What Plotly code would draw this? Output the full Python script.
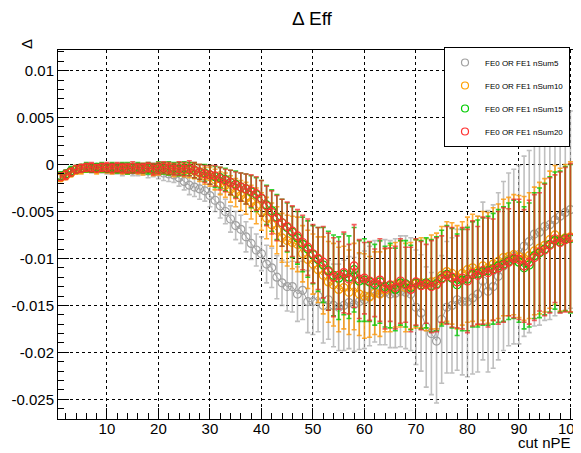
import plotly.graph_objects as go

cut_npe = list(range(1, 101))

eff_nsum5 = [
    -0.0013, -0.0011, -0.0008, -0.0006, -0.0005, -0.0004, -0.0004, -0.0005, -0.0004, -0.0005,
    -0.0005, -0.0005, -0.0006, -0.0005, -0.0006, -0.0006, -0.0005, -0.0007, -0.0006, -0.0008,
    -0.0009, -0.0010, -0.0011, -0.0014, -0.0018, -0.0022, -0.0024, -0.0026, -0.0028, -0.0033,
    -0.0038, -0.0044, -0.0050, -0.0058, -0.0065, -0.0069, -0.0077, -0.0084, -0.0091, -0.0095,
    -0.0106, -0.0110, -0.0120, -0.0126, -0.0130, -0.0130, -0.0138, -0.0134, -0.0146, -0.0146,
    -0.0140, -0.0150, -0.0144, -0.0150, -0.0152, -0.0150, -0.0147, -0.0149, -0.0146, -0.0144,
    -0.0140, -0.0135, -0.0137, -0.0136, -0.0138, -0.0137, -0.0135, -0.0136, -0.0138, -0.0152,
    -0.0158, -0.0173, -0.0180, -0.0188, -0.0165, -0.0152, -0.0150, -0.0144, -0.0146, -0.0146,
    -0.0142, -0.0138, -0.0124, -0.0135, -0.0130, -0.0119, -0.0108, -0.0101, -0.0098, -0.0096,
    -0.0087, -0.0082, -0.0074, -0.0072, -0.0066, -0.0064, -0.0059, -0.0055, -0.0051, -0.0048,
]
err_nsum5 = [
    0.0004, 0.0004, 0.0004, 0.0004, 0.0004, 0.0004, 0.0005, 0.0004, 0.0005, 0.0005,
    0.0005, 0.0005, 0.0006, 0.0005, 0.0006, 0.0006, 0.0006, 0.0007, 0.0007, 0.0007,
    0.0008, 0.0008, 0.0008, 0.0009, 0.0009, 0.0010, 0.0010, 0.0011, 0.0011, 0.0012,
    0.0012, 0.0013, 0.0013, 0.0014, 0.0015, 0.0015, 0.0016, 0.0017, 0.0017, 0.0018,
    0.0020, 0.0021, 0.0023, 0.0024, 0.0026, 0.0027, 0.0029, 0.0031, 0.0033, 0.0035,
    0.0038, 0.0040, 0.0042, 0.0044, 0.0046, 0.0048, 0.0049, 0.0050, 0.0051, 0.0052,
    0.0053, 0.0054, 0.0055, 0.0056, 0.0057, 0.0058, 0.0059, 0.0060, 0.0060, 0.0061,
    0.0062, 0.0064, 0.0065, 0.0066, 0.0068, 0.0070, 0.0072, 0.0075, 0.0078, 0.0080,
    0.0081, 0.0083, 0.0084, 0.0086, 0.0087, 0.0089, 0.0090, 0.0092, 0.0093, 0.0095,
    0.0096, 0.0097, 0.0098, 0.0099, 0.0100, 0.0101, 0.0102, 0.0103, 0.0104, 0.0105,
]

eff_nsum10 = [
    -0.0014, -0.0012, -0.0009, -0.0006, -0.0005, -0.0004, -0.0004, -0.0005, -0.0004, -0.0004,
    -0.0005, -0.0004, -0.0005, -0.0005, -0.0004, -0.0005, -0.0005, -0.0004, -0.0006, -0.0005,
    -0.0004, -0.0005, -0.0006, -0.0005, -0.0006, -0.0006, -0.0007, -0.0009, -0.0012, -0.0013,
    -0.0016, -0.0020, -0.0022, -0.0026, -0.0030, -0.0033, -0.0036, -0.0040, -0.0044, -0.0050,
    -0.0057, -0.0064, -0.0070, -0.0078, -0.0081, -0.0083, -0.0085, -0.0095, -0.0101, -0.0106,
    -0.0112, -0.0118, -0.0125, -0.0128, -0.0133, -0.0131, -0.0136, -0.0130, -0.0138, -0.0140,
    -0.0141, -0.0137, -0.0138, -0.0134, -0.0132, -0.0128, -0.0127, -0.0131, -0.0129, -0.0127,
    -0.0126, -0.0128, -0.0125, -0.0124, -0.0118, -0.0114, -0.0116, -0.0120, -0.0116, -0.0112,
    -0.0110, -0.0113, -0.0108, -0.0110, -0.0106, -0.0103, -0.0099, -0.0098, -0.0096, -0.0098,
    -0.0100, -0.0097, -0.0092, -0.0089, -0.0086, -0.0080, -0.0075, -0.0080, -0.0078, -0.0077,
]
err_nsum10 = [
    0.0004, 0.0004, 0.0004, 0.0004, 0.0005, 0.0004, 0.0004, 0.0005, 0.0004, 0.0005,
    0.0005, 0.0005, 0.0005, 0.0005, 0.0005, 0.0005, 0.0006, 0.0005, 0.0006, 0.0006,
    0.0006, 0.0006, 0.0007, 0.0007, 0.0007, 0.0008, 0.0008, 0.0009, 0.0009, 0.0010,
    0.0011, 0.0012, 0.0013, 0.0014, 0.0015, 0.0016, 0.0017, 0.0018, 0.0019, 0.0020,
    0.0022, 0.0023, 0.0025, 0.0026, 0.0027, 0.0028, 0.0029, 0.0030, 0.0031, 0.0032,
    0.0035, 0.0041, 0.0043, 0.0044, 0.0045, 0.0044, 0.0045, 0.0046, 0.0044, 0.0045,
    0.0043, 0.0044, 0.0045, 0.0044, 0.0046, 0.0045, 0.0046, 0.0047, 0.0046, 0.0047,
    0.0048, 0.0049, 0.0050, 0.0051, 0.0052, 0.0053, 0.0054, 0.0055, 0.0055, 0.0056,
    0.0057, 0.0058, 0.0058, 0.0059, 0.0060, 0.0061, 0.0062, 0.0063, 0.0064, 0.0065,
    0.0066, 0.0067, 0.0068, 0.0070, 0.0071, 0.0073, 0.0074, 0.0076, 0.0078, 0.0080,
]

eff_nsum15 = [
    -0.0012, -0.0010, -0.0007, -0.0005, -0.0004, -0.0003, -0.0004, -0.0003, -0.0003, -0.0004,
    -0.0003, -0.0004, -0.0003, -0.0004, -0.0004, -0.0003, -0.0004, -0.0004, -0.0004, -0.0003,
    -0.0004, -0.0004, -0.0004, -0.0005, -0.0004, -0.0005, -0.0006, -0.0008, -0.0009, -0.0011,
    -0.0013, -0.0014, -0.0016, -0.0019, -0.0021, -0.0024, -0.0026, -0.0029, -0.0032, -0.0036,
    -0.0043, -0.0049, -0.0056, -0.0062, -0.0067, -0.0072, -0.0078, -0.0085, -0.0090, -0.0096,
    -0.0101, -0.0107, -0.0113, -0.0118, -0.0121, -0.0117, -0.0120, -0.0112, -0.0124, -0.0123,
    -0.0125, -0.0128, -0.0125, -0.0130, -0.0129, -0.0133, -0.0126, -0.0127, -0.0131, -0.0126,
    -0.0128, -0.0126, -0.0129, -0.0127, -0.0121, -0.0117, -0.0121, -0.0128, -0.0123, -0.0122,
    -0.0117, -0.0116, -0.0114, -0.0113, -0.0111, -0.0108, -0.0106, -0.0103, -0.0101, -0.0104,
    -0.0110, -0.0107, -0.0097, -0.0094, -0.0090, -0.0085, -0.0081, -0.0082, -0.0079, -0.0079,
]
err_nsum15 = [
    0.0004, 0.0004, 0.0005, 0.0004, 0.0004, 0.0005, 0.0004, 0.0004, 0.0005, 0.0004,
    0.0005, 0.0005, 0.0005, 0.0006, 0.0005, 0.0005, 0.0005, 0.0006, 0.0005, 0.0006,
    0.0006, 0.0007, 0.0006, 0.0007, 0.0007, 0.0007, 0.0008, 0.0008, 0.0009, 0.0010,
    0.0011, 0.0011, 0.0012, 0.0013, 0.0014, 0.0015, 0.0016, 0.0017, 0.0018, 0.0019,
    0.0021, 0.0022, 0.0024, 0.0025, 0.0026, 0.0027, 0.0028, 0.0029, 0.0030, 0.0031,
    0.0034, 0.0040, 0.0042, 0.0043, 0.0044, 0.0043, 0.0044, 0.0045, 0.0043, 0.0044,
    0.0042, 0.0043, 0.0044, 0.0043, 0.0045, 0.0044, 0.0045, 0.0046, 0.0045, 0.0046,
    0.0047, 0.0048, 0.0049, 0.0050, 0.0051, 0.0052, 0.0053, 0.0054, 0.0054, 0.0055,
    0.0056, 0.0057, 0.0057, 0.0058, 0.0059, 0.0060, 0.0061, 0.0062, 0.0063, 0.0064,
    0.0065, 0.0066, 0.0067, 0.0069, 0.0070, 0.0072, 0.0073, 0.0075, 0.0077, 0.0079,
]

eff_nsum20 = [
    -0.0013, -0.0011, -0.0008, -0.0005, -0.0004, -0.0003, -0.0003, -0.0004, -0.0003, -0.0003,
    -0.0004, -0.0003, -0.0004, -0.0004, -0.0003, -0.0004, -0.0004, -0.0003, -0.0005, -0.0004,
    -0.0003, -0.0004, -0.0005, -0.0004, -0.0005, -0.0004, -0.0006, -0.0008, -0.0010, -0.0011,
    -0.0012, -0.0015, -0.0017, -0.0019, -0.0022, -0.0024, -0.0026, -0.0028, -0.0031, -0.0036,
    -0.0044, -0.0051, -0.0057, -0.0062, -0.0066, -0.0071, -0.0076, -0.0083, -0.0088, -0.0095,
    -0.0100, -0.0104, -0.0114, -0.0120, -0.0118, -0.0115, -0.0122, -0.0108, -0.0122, -0.0121,
    -0.0124, -0.0126, -0.0123, -0.0132, -0.0128, -0.0131, -0.0124, -0.0128, -0.0133, -0.0125,
    -0.0129, -0.0127, -0.0130, -0.0128, -0.0122, -0.0118, -0.0120, -0.0125, -0.0121, -0.0124,
    -0.0116, -0.0118, -0.0113, -0.0115, -0.0112, -0.0110, -0.0107, -0.0104, -0.0100, -0.0101,
    -0.0108, -0.0104, -0.0099, -0.0093, -0.0091, -0.0086, -0.0079, -0.0083, -0.0080, -0.0078,
]
err_nsum20 = [
    0.0004, 0.0005, 0.0004, 0.0004, 0.0004, 0.0004, 0.0005, 0.0004, 0.0004, 0.0005,
    0.0005, 0.0005, 0.0005, 0.0005, 0.0006, 0.0005, 0.0005, 0.0005, 0.0006, 0.0006,
    0.0006, 0.0006, 0.0006, 0.0007, 0.0007, 0.0008, 0.0008, 0.0008, 0.0009, 0.0010,
    0.0011, 0.0012, 0.0012, 0.0013, 0.0014, 0.0015, 0.0016, 0.0017, 0.0018, 0.0019,
    0.0021, 0.0023, 0.0024, 0.0025, 0.0026, 0.0027, 0.0028, 0.0029, 0.0030, 0.0031,
    0.0033, 0.0038, 0.0041, 0.0042, 0.0036, 0.0043, 0.0037, 0.0044, 0.0042, 0.0038,
    0.0042, 0.0036, 0.0044, 0.0043, 0.0039, 0.0044, 0.0045, 0.0040, 0.0045, 0.0046,
    0.0047, 0.0042, 0.0049, 0.0050, 0.0046, 0.0052, 0.0053, 0.0049, 0.0054, 0.0055,
    0.0056, 0.0052, 0.0057, 0.0058, 0.0054, 0.0060, 0.0061, 0.0057, 0.0063, 0.0064,
    0.0060, 0.0066, 0.0067, 0.0063, 0.0070, 0.0072, 0.0068, 0.0075, 0.0077, 0.0079,
]

series_names = ["FE0 OR FE1 nSum5", "FE0 OR FE1 nSum10", "FE0 OR FE1 nSum15", "FE0 OR FE1 nSum20"]
series_values = [eff_nsum5, eff_nsum10, eff_nsum15, eff_nsum20]
series_errors = [err_nsum5, err_nsum10, err_nsum15, err_nsum20]
marker_colors = ["#a0a0a0", "#ffa000", "#00cc00", "#ff3030"]
err_colors = ["rgba(170,170,170,0.75)", "rgba(255,150,0,0.8)", "rgba(0,200,0,0.8)", "rgba(240,40,40,0.75)"]

y_tick_vals = [0.01, 0.005, 0, -0.005, -0.01, -0.015, -0.02, -0.025]
y_tick_text = ["0.01", "0.005", "0", "-0.005", "-0.01", "-0.015", "-0.02", "-0.025"]
x_tick_vals = [10, 20, 30, 40, 50, 60, 70, 80, 90, 100]

FONT = "Liberation Sans, Arial, Helvetica, sans-serif"

# the page body adds an 8px offset, so the figure is drawn 8px smaller
W, H = 573, 445
OFF = 8
L, T, R, B = 58 - OFF, 50 - OFF, 8, 34
PW, PH = W - L - R, H - T - B

fig = go.Figure()

for name, vals, errs, mc, ec in zip(series_names, series_values, series_errors, marker_colors, err_colors):
    fig.add_trace(go.Scatter(
        x=cut_npe, y=vals, mode="lines+markers", showlegend=False,
        line=dict(color=mc, width=1),
        marker=dict(symbol="circle-open", size=8, color=mc, line=dict(width=1.2, color=mc)),
        error_y=dict(type="data", array=errs, visible=True, color=ec, thickness=1.6, width=2.5),
    ))

for i, (name, mc) in enumerate(zip(series_names, marker_colors)):
    fig.add_trace(go.Scatter(
        x=[None], y=[None], mode="markers", name=name, legendgroup=f"g{i}",
        marker=dict(symbol="circle-open", size=7, color=mc, line=dict(width=1.2, color=mc)),
    ))

axis_common = dict(
    showline=True, linecolor="black", linewidth=1, mirror=True,
    ticks="inside", tickcolor="black", tickwidth=1, ticklen=11,
    showgrid=True, gridcolor="black", gridwidth=1, griddash="dot",
    zeroline=False, automargin=False,
    tickfont=dict(family=FONT, size=15, color="black"),
)

fig.update_xaxes(
    range=[0.5, 100.5], tickmode="array", tickvals=x_tick_vals,
    ticklabeloverflow="allow", ticklabelstandoff=-4,
    minor=dict(tickmode="linear", tick0=0, dtick=2, ticks="inside", ticklen=6,
               tickcolor="black", showgrid=False),
    **axis_common,
)
fig.update_yaxes(
    range=[-0.0271, 0.0122], tickmode="array", tickvals=y_tick_vals, ticktext=y_tick_text,
    minor=dict(tickmode="linear", tick0=0, dtick=0.001, ticks="inside", ticklen=6,
               tickcolor="black", showgrid=False),
    **axis_common,
)

fig.update_layout(
    width=W, height=H,
    margin=dict(l=L, r=R, t=T, b=B, autoexpand=False),
    paper_bgcolor="white", plot_bgcolor="white",
    font=dict(family=FONT, color="black"),
    title=dict(text="Δ Eff", x=(312 - OFF) / W, xanchor="center", y=1 - (18 - OFF) / H, yanchor="middle",
               font=dict(family=FONT, size=19, color="black")),
    legend=dict(
        x=(444 - 58) / PW, y=(419 - 47) / PH, xanchor="left", yanchor="top",
        bgcolor="white", bordercolor="black", borderwidth=1,
        font=dict(family=FONT, size=8, color="black"),
        tracegroupgap=4, itemwidth=30,
    ),
    annotations=[
        dict(text="cut nPE", xref="paper", yref="paper", x=1, y=0, xanchor="right", yanchor="top",
             yshift=-13, showarrow=False, font=dict(family=FONT, size=15, color="black")),
        dict(text="Δ", xref="paper", yref="paper", x=(27 - 58) / PW, y=(419 - 44) / PH,
             xanchor="center", yanchor="middle", textangle=-90, showarrow=False,
             font=dict(family=FONT, size=15, color="black")),
    ],
)

fig.write_html("out.html")
